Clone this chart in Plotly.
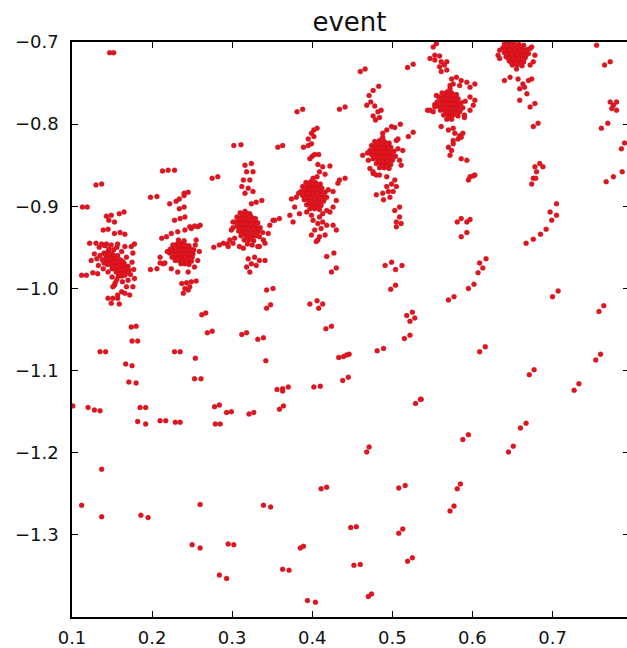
import plotly.graph_objects as go

x_ticks = [0.1, 0.2, 0.3, 0.4, 0.5, 0.6, 0.7]
x_tick_labels = ["0.1", "0.2", "0.3", "0.4", "0.5", "0.6", "0.7"]
y_ticks = [-1.3, -1.2, -1.1, -1.0, -0.9, -0.8, -0.7]
y_tick_labels = ["\u22121.3", "\u22121.2", "\u22121.1", "\u22121.0", "\u22120.9", "\u22120.8", "\u22120.7"]

cluster_1 = [
    (0.140,-0.957),(0.145,-0.955),(0.150,-0.958),(0.143,-0.962),(0.148,-0.961),(0.153,-0.962),(0.157,-0.960),
    (0.138,-0.965),(0.142,-0.967),(0.147,-0.966),(0.151,-0.967),(0.155,-0.966),(0.160,-0.965),(0.144,-0.971),
    (0.149,-0.971),(0.153,-0.972),(0.157,-0.970),(0.161,-0.971),(0.165,-0.969),(0.150,-0.976),(0.154,-0.976),
    (0.158,-0.975),(0.162,-0.976),(0.166,-0.974),(0.170,-0.973),(0.155,-0.980),(0.159,-0.980),(0.163,-0.981),
    (0.167,-0.979),(0.171,-0.978),(0.158,-0.985),(0.162,-0.985),(0.166,-0.984),(0.146,-0.952),(0.152,-0.953),
    (0.135,-0.960),(0.173,-0.983),(0.156,-0.989),
    (0.142,-0.959),(0.147,-0.958),(0.152,-0.960),(0.145,-0.964),(0.150,-0.964),(0.155,-0.964),(0.140,-0.969),
    (0.147,-0.969),(0.151,-0.970),(0.155,-0.968),(0.159,-0.968),(0.163,-0.967),(0.152,-0.974),(0.156,-0.973),
    (0.160,-0.973),(0.164,-0.972),(0.168,-0.976),(0.157,-0.978),(0.161,-0.978),(0.165,-0.977),(0.160,-0.982),
    (0.164,-0.983),(0.169,-0.981),
    (0.131,-0.964),(0.128,-0.958),(0.134,-0.950),(0.141,-0.948),(0.156,-0.950),(0.162,-0.955),(0.168,-0.962),
    (0.175,-0.968),(0.177,-0.977),(0.176,-0.957),(0.133,-0.972),(0.139,-0.976),(0.145,-0.980),(0.150,-0.986),
    (0.154,-0.993),(0.163,-0.992),(0.170,-0.990),(0.178,-0.988),
    (0.139,-0.929),(0.145,-0.928),(0.153,-0.933),(0.160,-0.932),(0.166,-0.934),
    (0.122,-0.945),(0.130,-0.945),(0.137,-0.946),(0.143,-0.946),(0.149,-0.947),(0.157,-0.946),(0.166,-0.949),
    (0.174,-0.949),(0.178,-0.946),
    (0.112,-0.984),(0.118,-0.984),(0.126,-0.981),(0.132,-0.982),(0.124,-0.966),
    (0.153,-0.996),(0.162,-1.004),(0.166,-1.006),(0.172,-1.008),(0.157,-1.008),(0.151,-0.998),(0.168,-0.998),
    (0.176,-0.998),(0.145,-1.012),(0.151,-1.012),(0.157,-1.012),(0.149,-1.018),(0.159,-1.019),
    (0.143,-0.912),(0.149,-0.911),(0.146,-0.917),(0.153,-0.919),(0.159,-0.909),(0.165,-0.907),
]

cluster_2 = [
    (0.226,-0.947),(0.231,-0.946),(0.236,-0.945),(0.241,-0.947),(0.246,-0.948),(0.223,-0.952),(0.228,-0.951),
    (0.233,-0.951),(0.238,-0.950),(0.243,-0.951),(0.248,-0.952),(0.252,-0.953),(0.222,-0.957),(0.227,-0.956),
    (0.232,-0.956),(0.237,-0.955),(0.242,-0.956),(0.247,-0.957),(0.251,-0.958),(0.225,-0.962),(0.230,-0.961),
    (0.235,-0.961),(0.240,-0.960),(0.245,-0.961),(0.250,-0.962),(0.229,-0.966),(0.234,-0.966),(0.239,-0.965),
    (0.244,-0.966),(0.249,-0.967),(0.236,-0.970),(0.241,-0.970),(0.246,-0.971),(0.219,-0.955),(0.254,-0.947),
    (0.233,-0.941),(0.240,-0.942),
    (0.228,-0.949),(0.234,-0.948),(0.239,-0.948),(0.244,-0.949),(0.225,-0.954),(0.230,-0.953),(0.235,-0.953),
    (0.240,-0.953),(0.245,-0.954),(0.250,-0.955),(0.229,-0.959),(0.234,-0.958),(0.239,-0.958),(0.244,-0.958),
    (0.249,-0.960),(0.232,-0.964),(0.237,-0.963),(0.242,-0.963),(0.247,-0.964),(0.238,-0.968),(0.243,-0.968),
    (0.212,-0.939),(0.218,-0.937),(0.224,-0.933),(0.232,-0.931),(0.241,-0.929),(0.249,-0.927),(0.257,-0.925),
    (0.255,-0.941),(0.259,-0.955),(0.257,-0.966),(0.253,-0.974),(0.245,-0.980),(0.232,-0.980),(0.224,-0.976),
    (0.214,-0.970),(0.210,-0.962),
    (0.222,-0.897),(0.230,-0.894),(0.234,-0.891),(0.240,-0.887),(0.245,-0.883),(0.240,-0.884),(0.234,-0.903),
    (0.240,-0.901),(0.228,-0.917),(0.235,-0.915),(0.241,-0.913),(0.247,-0.925),(0.253,-0.924),(0.260,-0.923),
    (0.237,-0.994),(0.243,-0.993),(0.249,-0.992),(0.255,-0.991),(0.241,-1.000),(0.245,-1.002),(0.239,-1.006),
    (0.247,-0.998),
]

cluster_3 = [
    (0.310,-0.908),(0.316,-0.906),(0.322,-0.909),(0.306,-0.913),(0.312,-0.913),(0.318,-0.912),(0.324,-0.913),
    (0.329,-0.915),(0.304,-0.919),(0.309,-0.918),(0.315,-0.918),(0.321,-0.918),(0.327,-0.919),(0.332,-0.920),
    (0.306,-0.924),(0.312,-0.924),(0.318,-0.924),(0.324,-0.924),(0.330,-0.925),(0.335,-0.926),(0.308,-0.930),
    (0.314,-0.930),(0.320,-0.929),(0.326,-0.930),(0.332,-0.931),(0.311,-0.936),(0.317,-0.935),(0.323,-0.936),
    (0.329,-0.936),(0.334,-0.937),(0.315,-0.941),(0.321,-0.941),(0.327,-0.942),(0.319,-0.946),(0.325,-0.947),
    (0.301,-0.926),(0.338,-0.932),
    (0.313,-0.910),(0.319,-0.909),(0.309,-0.915),(0.315,-0.915),(0.321,-0.915),(0.327,-0.916),(0.307,-0.921),
    (0.312,-0.921),(0.318,-0.921),(0.324,-0.921),(0.330,-0.922),(0.309,-0.927),(0.315,-0.927),(0.321,-0.927),
    (0.327,-0.927),(0.333,-0.928),(0.312,-0.933),(0.318,-0.933),(0.324,-0.933),(0.330,-0.934),(0.318,-0.938),
    (0.324,-0.939),
    (0.316,-0.850),(0.324,-0.848),(0.318,-0.858),(0.326,-0.858),(0.314,-0.868),(0.322,-0.868),(0.312,-0.876),
    (0.320,-0.878),(0.326,-0.882),(0.316,-0.884),(0.330,-0.895),(0.337,-0.893),(0.324,-0.897),
    (0.347,-0.923),(0.353,-0.917),(0.345,-0.933),(0.339,-0.941),(0.341,-0.945),(0.334,-0.949),
    (0.301,-0.919),(0.299,-0.929),(0.303,-0.939),(0.297,-0.941),(0.289,-0.945),(0.295,-0.949),(0.309,-0.949),
    (0.314,-0.951),
    (0.320,-0.964),(0.328,-0.962),(0.334,-0.966),(0.324,-0.970),(0.330,-0.972),(0.318,-0.974),(0.322,-0.980),
    (0.341,-0.966),(0.332,-0.949),
]

cluster_4 = [
    (0.392,-0.871),(0.398,-0.870),(0.404,-0.871),(0.410,-0.873),(0.388,-0.876),(0.394,-0.876),(0.400,-0.876),
    (0.406,-0.876),(0.412,-0.878),(0.386,-0.882),(0.392,-0.881),(0.398,-0.881),(0.404,-0.882),(0.410,-0.882),
    (0.416,-0.883),(0.388,-0.887),(0.394,-0.887),(0.400,-0.887),(0.406,-0.887),(0.412,-0.888),(0.418,-0.889),
    (0.390,-0.892),(0.396,-0.892),(0.402,-0.893),(0.408,-0.893),(0.414,-0.894),(0.393,-0.898),(0.399,-0.898),
    (0.405,-0.898),(0.411,-0.899),(0.397,-0.903),(0.403,-0.903),(0.409,-0.904),(0.383,-0.884),(0.420,-0.880),
    (0.401,-0.866),
    (0.395,-0.873),(0.401,-0.873),(0.407,-0.874),(0.391,-0.879),(0.397,-0.879),(0.403,-0.879),(0.409,-0.879),
    (0.389,-0.884),(0.395,-0.884),(0.401,-0.884),(0.407,-0.885),(0.413,-0.885),(0.391,-0.890),(0.397,-0.890),
    (0.403,-0.890),(0.409,-0.890),(0.415,-0.891),(0.396,-0.895),(0.402,-0.896),(0.408,-0.896),(0.400,-0.901),
    (0.406,-0.901),
    (0.402,-0.807),(0.406,-0.805),(0.399,-0.811),(0.395,-0.818),(0.402,-0.815),(0.389,-0.828),(0.395,-0.826),
    (0.399,-0.824),(0.400,-0.839),(0.403,-0.837),(0.397,-0.842),(0.408,-0.837),(0.407,-0.849),(0.413,-0.852),
    (0.422,-0.851),(0.409,-0.858),(0.416,-0.861),(0.406,-0.864),
    (0.374,-0.891),(0.380,-0.889),(0.378,-0.901),(0.372,-0.911),(0.376,-0.919),
    (0.426,-0.882),(0.430,-0.893),(0.426,-0.901),(0.422,-0.907),(0.432,-0.872),
    (0.384,-0.909),(0.393,-0.907),(0.399,-0.911),(0.409,-0.913),(0.413,-0.909),(0.418,-0.905),
    (0.401,-0.917),(0.407,-0.921),(0.413,-0.919),(0.403,-0.929),(0.411,-0.927),(0.418,-0.923),(0.409,-0.937),
    (0.407,-0.941),(0.416,-0.935),(0.426,-0.923),(0.430,-0.929),(0.399,-0.935),(0.405,-0.943),
]

cluster_5 = [
    (0.478,-0.821),(0.484,-0.820),(0.490,-0.821),(0.496,-0.823),(0.474,-0.826),(0.480,-0.826),(0.486,-0.826),
    (0.492,-0.826),(0.498,-0.828),(0.472,-0.832),(0.478,-0.831),(0.484,-0.831),(0.490,-0.832),(0.496,-0.832),
    (0.502,-0.833),(0.474,-0.837),(0.480,-0.837),(0.486,-0.837),(0.492,-0.837),(0.498,-0.838),(0.504,-0.839),
    (0.476,-0.842),(0.482,-0.842),(0.488,-0.843),(0.494,-0.843),(0.500,-0.844),(0.480,-0.848),(0.486,-0.848),
    (0.492,-0.848),(0.498,-0.849),(0.484,-0.853),(0.490,-0.853),(0.496,-0.854),(0.469,-0.835),(0.507,-0.830),
    (0.488,-0.816),
    (0.481,-0.823),(0.487,-0.823),(0.493,-0.824),(0.477,-0.829),(0.483,-0.829),(0.489,-0.829),(0.495,-0.829),
    (0.475,-0.834),(0.481,-0.834),(0.487,-0.834),(0.493,-0.835),(0.499,-0.835),(0.477,-0.840),(0.483,-0.840),
    (0.489,-0.840),(0.495,-0.840),(0.501,-0.841),(0.482,-0.845),(0.488,-0.846),(0.494,-0.846),(0.487,-0.851),
    (0.493,-0.851),
    (0.483,-0.754),(0.476,-0.759),(0.471,-0.765),(0.473,-0.773),(0.468,-0.777),(0.478,-0.778),(0.482,-0.785),
    (0.476,-0.790),(0.484,-0.792),(0.479,-0.795),(0.486,-0.783),
    (0.499,-0.803),(0.503,-0.804),(0.510,-0.800),(0.520,-0.815),(0.526,-0.810),(0.493,-0.807),(0.488,-0.811),
    (0.505,-0.820),
    (0.463,-0.838),(0.470,-0.844),(0.476,-0.860),(0.480,-0.862),(0.472,-0.854),
    (0.507,-0.818),(0.513,-0.832),(0.509,-0.844),(0.511,-0.850),
    (0.476,-0.858),(0.484,-0.862),(0.493,-0.864),(0.499,-0.873),(0.493,-0.876),(0.488,-0.884),(0.495,-0.882),
    (0.480,-0.886),(0.489,-0.892),(0.503,-0.868),(0.501,-0.882),(0.497,-0.889),(0.505,-0.876),
    (0.503,-0.905),(0.509,-0.901),(0.509,-0.913),(0.505,-0.919),
]

cluster_6 = [
    (0.562,-0.762),(0.568,-0.761),(0.574,-0.762),(0.580,-0.764),(0.558,-0.767),(0.564,-0.767),(0.570,-0.767),
    (0.576,-0.767),(0.582,-0.769),(0.556,-0.773),(0.562,-0.772),(0.568,-0.772),(0.574,-0.773),(0.580,-0.773),
    (0.586,-0.774),(0.558,-0.778),(0.564,-0.778),(0.570,-0.778),(0.576,-0.778),(0.582,-0.779),(0.588,-0.780),
    (0.560,-0.783),(0.566,-0.783),(0.572,-0.784),(0.578,-0.784),(0.584,-0.785),(0.564,-0.789),(0.570,-0.789),
    (0.576,-0.789),(0.582,-0.790),(0.568,-0.794),(0.574,-0.794),(0.553,-0.776),(0.591,-0.772),(0.572,-0.757),
    (0.565,-0.764),(0.571,-0.764),(0.577,-0.765),(0.561,-0.770),(0.567,-0.770),(0.573,-0.770),(0.579,-0.770),
    (0.559,-0.775),(0.565,-0.775),(0.571,-0.775),(0.577,-0.776),(0.583,-0.776),(0.561,-0.781),(0.567,-0.781),
    (0.573,-0.781),(0.579,-0.781),(0.585,-0.782),(0.567,-0.786),(0.573,-0.786),(0.579,-0.787),(0.571,-0.792),
    (0.547,-0.720),(0.553,-0.716),(0.559,-0.717),(0.553,-0.722),(0.561,-0.724),(0.568,-0.724),(0.559,-0.730),
    (0.565,-0.728),(0.561,-0.736),(0.568,-0.734),
    (0.574,-0.745),(0.580,-0.743),(0.586,-0.747),(0.593,-0.749),(0.576,-0.751),(0.584,-0.753),(0.597,-0.755),
    (0.603,-0.751),(0.572,-0.753),
    (0.597,-0.767),(0.603,-0.771),(0.601,-0.777),(0.597,-0.783),(0.590,-0.789),(0.590,-0.792),
    (0.547,-0.783),(0.551,-0.785),(0.555,-0.765),(0.553,-0.779),
    (0.561,-0.803),(0.570,-0.807),(0.576,-0.805),(0.578,-0.811),(0.584,-0.814),(0.588,-0.811),(0.576,-0.820),
    (0.582,-0.818),(0.586,-0.816),(0.570,-0.828),(0.576,-0.824),(0.574,-0.832),(0.572,-0.838),
    (0.586,-0.842),(0.593,-0.844),(0.597,-0.864),(0.603,-0.862),
]

cluster_7 = [
    (0.640,-0.702),(0.646,-0.701),(0.652,-0.702),(0.658,-0.703),(0.664,-0.704),(0.638,-0.707),(0.644,-0.707),
    (0.650,-0.707),(0.656,-0.707),(0.662,-0.708),(0.668,-0.709),(0.640,-0.713),(0.646,-0.712),(0.652,-0.712),
    (0.658,-0.713),(0.664,-0.713),(0.670,-0.714),(0.642,-0.718),(0.648,-0.718),(0.654,-0.718),(0.660,-0.718),
    (0.666,-0.719),(0.646,-0.723),(0.652,-0.723),(0.658,-0.723),(0.664,-0.724),(0.650,-0.728),(0.656,-0.728),
    (0.662,-0.729),(0.634,-0.710),(0.674,-0.706),(0.655,-0.733),
    (0.643,-0.704),(0.649,-0.704),(0.655,-0.705),(0.661,-0.706),(0.641,-0.710),(0.647,-0.710),(0.653,-0.710),
    (0.659,-0.710),(0.665,-0.711),(0.643,-0.715),(0.649,-0.715),(0.655,-0.715),(0.661,-0.716),(0.667,-0.716),
    (0.645,-0.720),(0.651,-0.720),(0.657,-0.721),(0.663,-0.721),(0.649,-0.726),(0.655,-0.726),(0.661,-0.726),
    (0.632,-0.716),(0.634,-0.720),(0.672,-0.708),(0.678,-0.716),(0.676,-0.724),(0.672,-0.728),
    (0.640,-0.747),(0.647,-0.743),(0.657,-0.745),(0.663,-0.751),(0.670,-0.747),(0.674,-0.745),(0.659,-0.757),
    (0.665,-0.755),(0.668,-0.763),(0.659,-0.771),(0.672,-0.779),(0.678,-0.775),
]

scattered = [
    (0.147,-0.713),(0.152,-0.713),(0.302,-0.826),(0.311,-0.825),(0.213,-0.857),(0.220,-0.856),(0.228,-0.856),
    (0.130,-0.874),(0.137,-0.873),(0.275,-0.866),(0.282,-0.864),(0.198,-0.889),(0.206,-0.888),(0.113,-0.901),
    (0.119,-0.901),(0.460,-0.736),(0.466,-0.733),(0.519,-0.731),(0.526,-0.727),(0.381,-0.785),(0.388,-0.782),
    (0.434,-0.782),(0.441,-0.779),(0.544,-0.783),(0.357,-0.828),(0.363,-0.826),(0.434,-0.868),(0.441,-0.866),
    (0.351,-0.917),(0.359,-0.915),(0.505,-0.925),(0.511,-0.921),(0.551,-0.706),(0.555,-0.702),
    (0.595,-0.868),(0.601,-0.863),(0.581,-0.919),(0.586,-0.915),(0.593,-0.919),(0.597,-0.916),(0.586,-0.937),
    (0.593,-0.932),(0.676,-0.803),(0.682,-0.799),(0.678,-0.852),(0.684,-0.848),(0.688,-0.852),(0.680,-0.858),
    (0.676,-0.866),(0.674,-0.873),(0.679,-0.866),(0.697,-0.907),(0.705,-0.897),(0.699,-0.917),(0.705,-0.911),
    (0.667,-0.945),(0.676,-0.940),(0.685,-0.934),(0.692,-0.928),(0.755,-0.704),(0.765,-0.728),(0.772,-0.724),
    (0.772,-0.773),(0.776,-0.777),(0.780,-0.773),(0.774,-0.781),(0.780,-0.783),(0.761,-0.805),(0.769,-0.799),
    (0.786,-0.830),(0.790,-0.823),(0.767,-0.870),(0.776,-0.864),(0.787,-0.858),
    (0.609,-0.969),(0.617,-0.964),(0.607,-0.981),(0.613,-0.975),(0.595,-1.000),(0.602,-0.995),(0.570,-1.014),
    (0.577,-1.010),(0.700,-1.010),(0.707,-1.003),(0.758,-1.028),(0.764,-1.021),(0.609,-1.077),(0.616,-1.071),
    (0.754,-1.087),(0.760,-1.080),(0.671,-1.105),(0.677,-1.099),(0.727,-1.124),(0.733,-1.116),(0.536,-1.135),
    (0.418,-0.961),(0.427,-0.957),(0.424,-0.980),(0.430,-0.975),(0.491,-0.972),(0.499,-0.968),(0.504,-0.977),
    (0.512,-0.972),(0.498,-1.001),(0.504,-0.996),(0.343,-1.002),(0.351,-1.000),(0.343,-1.024),(0.348,-1.020),
    (0.397,-1.019),(0.406,-1.015),(0.413,-1.019),(0.408,-1.024),(0.518,-1.033),(0.525,-1.029),(0.528,-1.036),
    (0.522,-1.040),(0.417,-1.049),(0.424,-1.046),(0.312,-1.056),(0.318,-1.054),(0.332,-1.062),(0.339,-1.060),
    (0.515,-1.061),(0.522,-1.057),(0.481,-1.076),(0.489,-1.073),(0.342,-1.088),(0.433,-1.084),(0.439,-1.083),
    (0.443,-1.081),(0.446,-1.080),(0.438,-1.112),(0.445,-1.108),(0.356,-1.123),(0.363,-1.122),(0.370,-1.120),
    (0.363,-1.125),(0.402,-1.120),(0.410,-1.119),(0.359,-1.147),(0.364,-1.143),(0.529,-1.140),(0.535,-1.135),
    (0.321,-1.153),(0.327,-1.151),(0.198,-0.977),(0.206,-0.976),(0.210,-0.969),(0.216,-0.969),(0.277,-0.950),
    (0.284,-0.947),(0.294,-0.946),(0.301,-0.945),(0.262,-1.032),(0.267,-1.030),(0.269,-1.054),(0.275,-1.052),
    (0.174,-1.047),(0.180,-1.046),(0.175,-1.064),(0.182,-1.064),(0.135,-1.077),(0.142,-1.077),(0.228,-1.077),
    (0.235,-1.077),(0.254,-1.085),(0.167,-1.092),(0.175,-1.094),(0.171,-1.114),(0.180,-1.115),(0.253,-1.110),
    (0.261,-1.110),(0.101,-1.143),(0.120,-1.145),(0.128,-1.148),(0.135,-1.149),(0.185,-1.145),(0.192,-1.145),
    (0.278,-1.144),(0.284,-1.142),(0.293,-1.151),(0.299,-1.150),(0.182,-1.162),(0.192,-1.165),(0.210,-1.161),
    (0.217,-1.161),(0.229,-1.163),(0.235,-1.163),(0.279,-1.165),(0.285,-1.165),(0.137,-1.220),(0.112,-1.264),
    (0.137,-1.278),(0.186,-1.276),(0.195,-1.279),(0.260,-1.263),(0.250,-1.312),(0.260,-1.316),(0.295,-1.311),
    (0.302,-1.312),(0.284,-1.349),(0.293,-1.353),(0.468,-1.199),(0.471,-1.193),(0.411,-1.244),(0.418,-1.242),
    (0.508,-1.243),(0.516,-1.240),(0.339,-1.264),(0.348,-1.266),(0.448,-1.291),(0.455,-1.290),(0.508,-1.298),
    (0.513,-1.293),(0.385,-1.316),(0.389,-1.314),(0.519,-1.332),(0.525,-1.328),(0.452,-1.337),(0.460,-1.336),
    (0.363,-1.342),(0.371,-1.343),(0.470,-1.375),(0.474,-1.372),(0.394,-1.380),(0.404,-1.382),(0.588,-1.184),
    (0.595,-1.178),(0.660,-1.170),(0.667,-1.164),(0.645,-1.199),(0.651,-1.192),(0.581,-1.244),(0.585,-1.238),
    (0.572,-1.271),(0.577,-1.265),
]

groups = [scattered, cluster_1, cluster_2, cluster_3, cluster_4, cluster_5, cluster_6, cluster_7]
xs = [p[0] for g in groups for p in g]
ys = [p[1] for g in groups for p in g]

FONT = "DejaVu Sans"

fig = go.Figure()
fig.add_trace(go.Scatter(
    x=xs, y=ys, mode="markers",
    marker=dict(size=5, color="#e6131c", line=dict(width=0.3, color="#9a1a28")),
    showlegend=False, hoverinfo="skip",
))
# invisible trace to carry the right-hand tick marks
fig.add_trace(go.Scatter(x=[xs[0]], y=[ys[0]], yaxis="y2", mode="markers",
                         marker=dict(size=0.1, opacity=0), showlegend=False, hoverinfo="skip"))

fig.update_layout(
    width=627, height=648,
    margin=dict(l=72, r=0, t=42, b=31),
    paper_bgcolor="white", plot_bgcolor="white",
    font=dict(family=FONT, color="#111111"),
    title=dict(text="event", x=0.5, xref="paper", xanchor="center",
               y=1 - 22 / 648, yref="container", yanchor="middle",
               font=dict(family=FONT, size=26, color="#111111")),
    xaxis=dict(range=[0.1, 0.793], tickvals=x_ticks, ticktext=x_tick_labels,
               showgrid=False, zeroline=False, showline=True, linecolor="black", linewidth=1.6,
               mirror="ticks", ticks="inside", ticklen=6, tickwidth=1.2, tickcolor="black",
               tickfont=dict(family=FONT, size=18, color="#111111"), ticklabelstandoff=4),
    yaxis=dict(range=[-1.4, -0.7], tickvals=y_ticks, ticktext=y_tick_labels,
               showgrid=False, zeroline=False, showline=True, linecolor="black", linewidth=1.6,
               mirror=False, ticks="inside", ticklen=6, tickwidth=1.2, tickcolor="black",
               tickfont=dict(family=FONT, size=18, color="#111111"), ticklabelstandoff=8),
    yaxis2=dict(range=[-1.4, -0.7], overlaying="y", side="right", tickvals=y_ticks,
                showticklabels=False, showgrid=False, zeroline=False, showline=False,
                ticks="inside", ticklen=4, tickwidth=1.2, tickcolor="black"),
)

fig.write_html("out.html", config={"displayModeBar": False},
               post_script="document.body.style.margin='0px';")
